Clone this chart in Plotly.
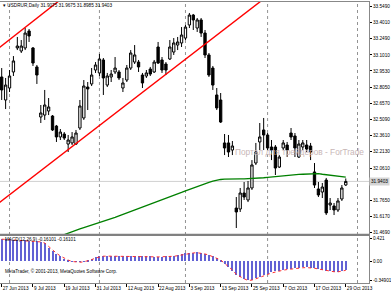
import plotly.graph_objects as go
import pandas as pd

# ---------------- data ----------------
dates = pd.bdate_range("2013-06-27", "2013-10-29")  # 89 daily bars

opens = [32.898, 32.687, 32.797, 32.944, 33.164, 33.136, 33.164, 33.320, 33.164, 32.990,
         32.531, 32.549, 32.586, 32.540, 32.448, 32.348, 32.375, 32.283, 32.293, 32.283,
         32.430, 32.522, 32.806, 32.834, 32.962, 32.935, 33.054, 32.824, 32.898, 32.944,
         32.944, 32.797, 32.870, 32.980, 33.035, 33.035, 32.916, 32.907, 32.971, 32.944,
         33.173, 33.054, 33.017, 33.063, 33.127, 33.191, 33.210, 33.255, 33.375, 33.466,
         33.347, 33.421, 33.301, 33.100, 32.980, 32.733, 32.687, 32.293, 32.293, 32.228,
         31.696, 31.687, 31.834, 31.770, 31.880, 32.109, 32.302, 32.412, 32.366, 32.256,
         32.256, 32.072, 32.247, 32.274, 32.384, 32.357, 32.164, 32.256, 32.274, 32.265,
         32.027, 31.871, 31.843, 31.953, 31.724, 31.715, 31.678, 31.779, 31.9075]
highs = [32.980, 32.889, 32.962, 33.090, 33.265, 33.237, 33.347, 33.338, 33.173, 33.008,
         32.641, 32.779, 32.705, 32.549, 32.458, 32.421, 32.393, 32.366, 32.393, 32.412,
         32.687, 32.870, 32.852, 32.980, 33.035, 33.109, 33.072, 32.935, 32.962, 33.081,
         32.962, 32.889, 33.008, 33.145, 33.191, 33.054, 32.935, 32.962, 32.990, 33.054,
         33.219, 33.081, 33.035, 33.237, 33.255, 33.265, 33.356, 33.375, 33.485, 33.476,
         33.439, 33.439, 33.329, 33.118, 32.999, 32.797, 32.751, 32.375, 32.366, 32.311,
         31.797, 31.880, 31.935, 31.944, 32.136, 32.293, 32.476, 32.522, 32.384, 32.320,
         32.274, 32.182, 32.320, 32.302, 32.430, 32.384, 32.320, 32.320, 32.320, 32.293,
         32.109, 31.935, 31.926, 31.972, 31.788, 31.742, 31.788, 31.907, 31.9675]
lows = [32.687, 32.604, 32.760, 32.907, 33.145, 33.118, 33.145, 33.219, 32.999, 32.834,
        32.476, 32.504, 32.549, 32.403, 32.302, 32.320, 32.320, 32.210, 32.274, 32.274,
        32.412, 32.504, 32.595, 32.815, 32.935, 32.907, 32.733, 32.806, 32.852, 32.925,
        32.870, 32.760, 32.852, 32.962, 33.017, 32.944, 32.797, 32.889, 32.907, 32.935,
        33.017, 32.935, 32.916, 33.054, 33.100, 33.145, 33.173, 33.237, 33.347, 33.329,
        33.311, 33.265, 33.072, 32.898, 32.779, 32.595, 32.476, 32.182, 32.164, 32.182,
        31.513, 31.660, 31.770, 31.751, 31.862, 32.091, 32.228, 32.228, 32.228, 32.136,
        31.999, 32.063, 32.228, 32.164, 32.320, 32.164, 32.155, 32.228, 32.210, 32.136,
        31.880, 31.797, 31.788, 31.632, 31.678, 31.632, 31.660, 31.761, 31.8985]
closes = [32.779, 32.824, 32.907, 33.045, 33.182, 33.182, 33.301, 33.274, 33.026, 32.916,
          32.568, 32.641, 32.623, 32.412, 32.348, 32.393, 32.338, 32.320, 32.348, 32.384,
          32.632, 32.815, 32.788, 32.916, 33.008, 33.063, 32.889, 32.907, 32.925, 32.980,
          32.889, 32.843, 32.980, 33.118, 33.100, 32.990, 32.843, 32.935, 32.925, 33.035,
          33.026, 32.962, 32.962, 33.173, 33.210, 33.219, 33.283, 33.356, 33.466, 33.421,
          33.421, 33.301, 33.100, 32.916, 32.824, 32.614, 32.485, 32.247, 32.210, 32.265,
          31.660, 31.834, 31.797, 31.880, 32.091, 32.210, 32.348, 32.366, 32.247, 32.228,
          32.063, 32.164, 32.293, 32.228, 32.348, 32.247, 32.283, 32.293, 32.237, 32.210,
          31.907, 31.816, 31.889, 31.651, 31.742, 31.678, 31.761, 31.880, 31.9403]

# moving average (green), from bar 14 on
ma_start = 14
ma_values = [31.426, 31.440, 31.453, 31.467, 31.481, 31.493, 31.504, 31.516, 31.527, 31.539,
             31.550, 31.562, 31.574, 31.586, 31.598, 31.611, 31.625, 31.638, 31.651, 31.663,
             31.676, 31.689, 31.703, 31.717, 31.730, 31.742, 31.755, 31.768, 31.782, 31.795,
             31.810, 31.825, 31.839, 31.854, 31.868, 31.882, 31.895, 31.907, 31.920, 31.932,
             31.942, 31.951, 31.958, 31.961, 31.963, 31.964, 31.964, 31.964, 31.964, 31.965,
             31.967, 31.969, 31.972, 31.974, 31.977, 31.981, 31.984, 31.988, 31.992, 31.995,
             31.998, 32.001, 32.004, 32.006, 32.009, 32.012, 32.014, 32.012, 32.006, 32.001,
             31.996, 31.992, 31.987, 31.983, 31.979]

# MACD(12,26,9)
macd_main = [0.400, 0.395, 0.390, 0.385, 0.383, 0.380, 0.378, 0.372, 0.368, 0.360,
             0.350, 0.325, 0.240, 0.185, 0.130, 0.085, 0.045, 0.012, -0.008, -0.015,
             -0.014, -0.002, 0.015, 0.040, 0.070, 0.092, 0.097, 0.098, 0.097, 0.098,
             0.097, 0.096, 0.096, 0.095, 0.094, 0.092, 0.090, 0.088, 0.085, 0.083,
             0.082, 0.083, 0.085, 0.090, 0.097, 0.110, 0.125, 0.140, 0.150, 0.157,
             0.158, 0.150, 0.130, 0.110, 0.085, 0.050, 0.020, -0.050, -0.110, -0.170,
             -0.250, -0.285, -0.320, -0.349, -0.335, -0.310, -0.290, -0.260, -0.230, -0.205,
             -0.185, -0.170, -0.155, -0.145, -0.135, -0.125, -0.118, -0.113, -0.110, -0.115,
             -0.125, -0.140, -0.155, -0.170, -0.180, -0.190, -0.190, -0.178, -0.161]
macd_signal = [0.405, 0.400, 0.395, 0.390, 0.386, 0.383, 0.380, 0.376, 0.371, 0.365,
               0.355, 0.335, 0.270, 0.205, 0.150, 0.100, 0.060, 0.025, 0.000, -0.012,
               -0.015, -0.006, 0.010, 0.033, 0.062, 0.085, 0.095, 0.097, 0.097, 0.097,
               0.097, 0.096, 0.096, 0.095, 0.094, 0.093, 0.091, 0.089, 0.086, 0.084,
               0.083, 0.083, 0.084, 0.088, 0.094, 0.105, 0.120, 0.135, 0.147, 0.155,
               0.158, 0.153, 0.136, 0.115, 0.090, 0.058, 0.028, -0.035, -0.095, -0.155,
               -0.235, -0.280, -0.315, -0.345, -0.338, -0.315, -0.293, -0.265, -0.236, -0.210,
               -0.190, -0.173, -0.158, -0.147, -0.137, -0.127, -0.120, -0.114, -0.111, -0.114,
               -0.123, -0.137, -0.152, -0.167, -0.178, -0.187, -0.189, -0.180, -0.161]

# user trend lines: two anchor points each (bar index, price)
trend_lower = [(0, 31.763), (60, 33.420)]
trend_upper = [(0, 33.185), (14, 33.578)]

# axis labels
price_ticks = [33.5490, 33.4010, 33.2490, 33.1010, 32.9530, 32.8050, 32.6570, 32.5090,
               32.3610, 32.2130, 32.0610, 31.7650, 31.6170, 31.4690]
price_tick_text = ["%.4f" % v for v in price_ticks]
macd_ticks = [0.421, 0.0, -0.34901]
macd_tick_text = ["0.421", "0.00", "-0.34901"]
date_tick_idx = [0, 8, 16, 24, 32, 40, 48, 56, 64, 72, 80, 88]
date_tick_text = ["27 Jun 2013", "9 Jul 2013", "19 Jul 2013", "31 Jul 2013", "12 Aug 2013",
                  "22 Aug 2013", "3 Sep 2013", "13 Sep 2013", "25 Sep 2013", "7 Oct 2013",
                  "17 Oct 2013", "29 Oct 2013"]
month_start_idx = [2, 25, 47, 68, 91]
last_price = 31.9403
title_text = "▾ USDRUR,Daily 31.9075 31.9675 31.8985 31.9403"
macd_text = "MACD(12,26,9) -0.16101 -0.16101"

# ---------------- figure ----------------
FONT = "Liberation Sans, Arial, sans-serif"
xs = list(range(len(opens)))
fig = go.Figure()

fig.add_trace(go.Candlestick(
    x=xs, open=opens, high=highs, low=lows, close=closes,
    increasing=dict(line=dict(color="#000000", width=1), fillcolor="#ffffff"),
    decreasing=dict(line=dict(color="#000000", width=1), fillcolor="#000000"),
    whiskerwidth=0, xaxis="x", yaxis="y", showlegend=False, hoverinfo="skip"))

fig.add_trace(go.Scatter(
    x=list(range(ma_start, ma_start + len(ma_values))), y=ma_values, mode="lines",
    line=dict(color="#008000", width=1.3), xaxis="x", yaxis="y", showlegend=False))

for (xa, ya), (xb, yb) in (trend_lower, trend_upper):
    slope = (yb - ya) / (xb - xa)
    xe0, xe1 = -2, 96
    fig.add_trace(go.Scatter(
        x=[xe0, xe1], y=[ya + slope * (xe0 - xa), ya + slope * (xe1 - xa)], mode="lines",
        line=dict(color="#ff0000", width=1.4), xaxis="x", yaxis="y", showlegend=False))

fig.add_trace(go.Bar(
    x=xs, y=macd_main, width=0.26, marker=dict(color="#6262d4", line=dict(width=0)),
    xaxis="x2", yaxis="y2", showlegend=False))
fig.add_trace(go.Scatter(
    x=xs, y=macd_signal, mode="lines", line=dict(color="#ff3030", width=1, dash="dot"),
    xaxis="x2", yaxis="y2", showlegend=False))

XR = [-0.435, 93.94]
PLOT_TOP, PLOT_BOT = 2, 283
H = PLOT_BOT - PLOT_TOP


def py(pix):
    return (PLOT_BOT - pix) / H


shapes = []
for m in month_start_idx:
    shapes.append(dict(type="line", xref="x", yref="paper", x0=m, x1=m, y0=0, y1=1,
                       line=dict(color="#777777", width=0.8, dash="dot"), layer="below"))
shapes.append(dict(type="line", xref="x domain", yref="y", x0=0, x1=1, y0=last_price, y1=last_price,
                   line=dict(color="#d0d0d0", width=1), layer="below"))
# pane separator
shapes.append(dict(type="line", xref="paper", yref="paper", x0=0, x1=1, y0=py(234.8), y1=py(234.8),
                   line=dict(color="#808080", width=2), layer="above"))

SMALL = 4.7
annotations = [
    dict(text=title_text, xref="paper", yref="paper", x=0.004, y=py(5.5), xanchor="left",
         yanchor="middle", showarrow=False, font=dict(family=FONT, size=SMALL, color="#000")),
    dict(text=macd_text, xref="paper", yref="paper", x=0.008, y=py(239.5), xanchor="left",
         yanchor="middle", showarrow=False, font=dict(family=FONT, size=4.6, color="#000")),
    dict(text="MetaTrader, © 2001-2013, MetaQuotes Software Corp.", xref="paper", yref="paper",
         x=0.008, y=py(271), xanchor="left", yanchor="middle", showarrow=False,
         font=dict(family=FONT, size=4.6, color="#000")),
    dict(text="Портал для трейдеров - ForTrade", xref="paper", yref="paper",
         x=233 / 369, y=py(152), xanchor="left", yanchor="middle", showarrow=False,
         font=dict(family=FONT, size=8.3, color="#c8b6b6")),
    dict(text="31.9403", xref="x domain", yref="y", x=1.0, y=last_price, xanchor="left",
         yanchor="middle", showarrow=False, bgcolor="#d4d4d4", borderpad=1,
         font=dict(family=FONT, size=SMALL, color="#000")),
]

TF = dict(family=FONT, size=SMALL, color="#000")
fig.update_layout(
    width=391, height=293, margin=dict(l=0, r=22, t=PLOT_TOP, b=293 - PLOT_BOT),
    paper_bgcolor="#ffffff", plot_bgcolor="#ffffff", bargap=0, boxgap=0.15,
    xaxis=dict(domain=[0, 1], range=XR, showticklabels=False, ticks="", showgrid=False,
               zeroline=False, showline=True, mirror=True, linecolor="#888888", linewidth=1,
               anchor="y", rangeslider=dict(visible=False), automargin=False),
    yaxis=dict(domain=[py(234.5), 1], range=[31.4534, 33.5857], side="right",
               tickvals=price_ticks, ticktext=price_tick_text, ticks="outside", ticklen=2,
               tickcolor="#000", showgrid=False, zeroline=False, showline=True, mirror=True,
               linecolor="#888888", linewidth=1, automargin=False,
               tickfont=TF, anchor="x"),
    xaxis2=dict(domain=[0, 1], range=XR, anchor="y2", tickvals=date_tick_idx,
                ticktext=date_tick_text, ticks="outside", ticklen=3, tickcolor="#000",
                ticklabelposition="outside right", tickangle=0, automargin=False,
                showgrid=False, zeroline=False,
                showline=True, mirror=True, linecolor="#888888", linewidth=1,
                tickfont=TF),
    yaxis2=dict(domain=[0, py(235.3)], range=[-0.391, 0.475], side="right", anchor="x2",
                tickvals=macd_ticks, ticktext=macd_tick_text, ticks="outside", ticklen=2,
                tickcolor="#000", showgrid=False, zeroline=False, showline=True, mirror=True,
                linecolor="#888888", linewidth=1, automargin=False,
                tickfont=TF),
    shapes=shapes, annotations=annotations,
)

fig.write_html("out.html")
